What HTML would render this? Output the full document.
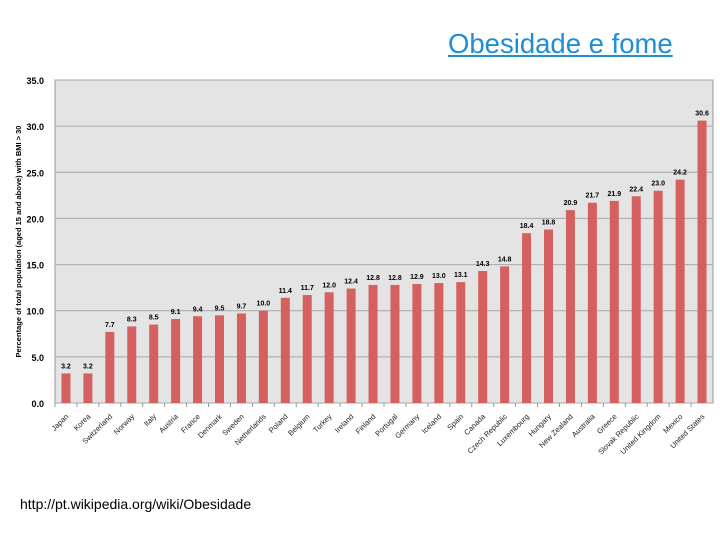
<!DOCTYPE html>
<html><head><meta charset="utf-8"><style>
body{margin:0;width:720px;height:540px;background:#fff;position:relative;overflow:hidden;font-family:"Liberation Sans",sans-serif}
#title{position:absolute;left:448px;top:28px;font-size:27.5px;color:#1e8fd6;text-decoration:underline;white-space:nowrap}
#url{position:absolute;left:20px;top:496px;font-size:14px;color:#000}
</style></head><body>
<div id="title">Obesidade e fome</div>
<svg id="chart" width="720" height="540" style="position:absolute;left:0;top:0"></svg>
<div id="url">http://pt.wikipedia.org/wiki/Obesidade</div>
<script>
const categories=["Japan","Korea","Switzerland","Norway","Italy","Austria","France","Denmark","Sweden","Netherlands","Poland","Belgium","Turkey","Ireland","Finland","Portugal","Germany","Iceland","Spain","Canada","Czech Republic","Luxembourg","Hungary","New Zealand","Australia","Greece","Slovak Republic","United Kingdom","Mexico","United States"];
const values=[3.2,3.2,7.7,8.3,8.5,9.1,9.4,9.5,9.7,10.0,11.4,11.7,12.0,12.4,12.8,12.8,12.9,13.0,13.1,14.3,14.8,18.4,18.8,20.9,21.7,21.9,22.4,23.0,24.2,30.6];
const yTicks=[0,5,10,15,20,25,30,35];
const NS="http://www.w3.org/2000/svg";
const svg=document.getElementById('chart');
const L=55,R=713,T=80,B=403,YMAX=35;
const y=v=>B-(v/YMAX)*(B-T);
const band=(R-L)/categories.length;
const x=i=>L+band*(i+0.5);
function mk(tag,attrs,parent){const e=document.createElementNS(NS,tag);for(const k in attrs)e.setAttribute(k,attrs[k]);(parent||svg).appendChild(e);return e;}
const bg=mk('rect',{x:L,y:T,width:R-L,height:B-T,fill:'#e4e4e4',stroke:'#999','stroke-width':1});


yTicks.forEach(t=>{
  const g=mk('line',{x1:L,x2:R,y1:y(t),y2:y(t),stroke:'#a8a8a8','stroke-width':1});
  
  
  const tx=mk('text',{x:L-11,y:y(t)+4,'text-anchor':'end','font-size':9,'font-weight':'bold',fill:'#000'});
  tx.textContent=t.toFixed(1);
  
  
});
const yt=mk('text',{x:21,y:(T+B)/2,'text-anchor':'middle','font-size':7.5,'font-weight':'bold',transform:`rotate(-90 21 ${(T+B)/2})`});
yt.textContent='Percentage of total population (aged 15 and above) with BMI > 30';


categories.forEach((c,i)=>{
  const v=values[i],cx=x(i);
  const b=mk('rect',{x:cx-4.5,y:y(v),width:9,height:B-y(v),fill:'#d46060'});
  
  
  const vl=mk('text',{x:cx,y:y(v)-5,'text-anchor':'middle','font-size':7,'font-weight':'bold'});
  vl.textContent=v.toFixed(1);
  
  
  mk('line',{x1:L+band*i,x2:L+band*i,y1:B,y2:B+4,stroke:'#999'});
  const cl=mk('text',{x:cx+3,y:B+14,'text-anchor':'end','font-size':7.5,fill:'#222',transform:`rotate(-45 ${cx+3} ${B+14})`});
  cl.textContent=c;
  
  
});
</script>
</body></html>
